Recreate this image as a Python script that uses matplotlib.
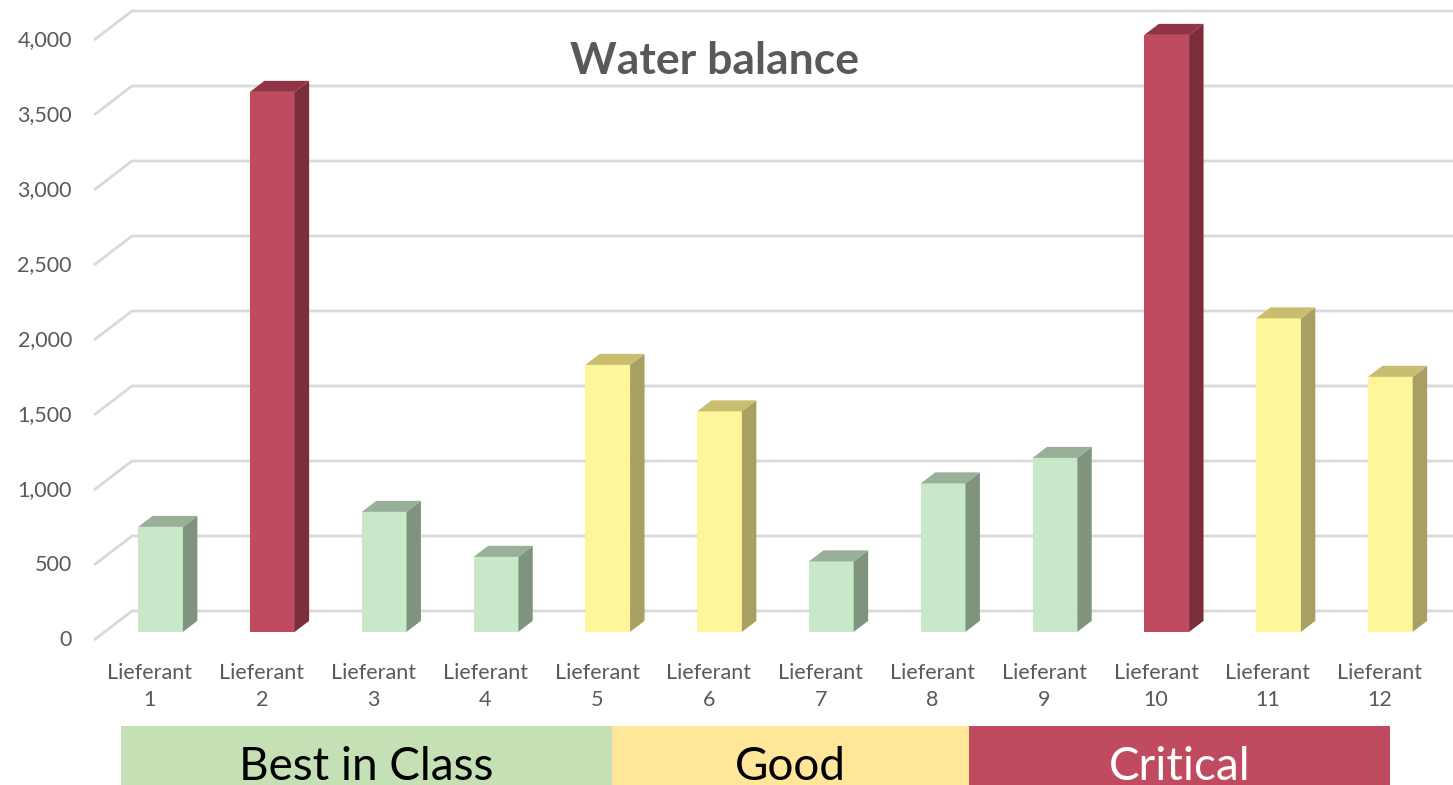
import matplotlib
matplotlib.use("Agg")
import matplotlib.pyplot as plt
from matplotlib.patches import Polygon, Rectangle

plt.rcParams['font.family'] = ['Lato', 'DejaVu Sans']

# supplier values and their rating
suppliers = [f"Lieferant\n{i}" for i in range(1, 13)]
water = [700, 3600, 800, 500, 1780, 1470, 470, 990, 1160, 3980, 2090, 1700]
rating = ["best", "critical", "best", "best", "good", "good",
          "best", "best", "best", "critical", "good", "good"]
yticks = [0, 500, 1000, 1500, 2000, 2500, 3000, 3500, 4000]

band_names = ["Best in Class", "Good", "Critical"]
band_keys = ["best", "good", "critical"]

# front / top / side shades per rating
face = {"best": "#C8E8CA", "good": "#FFF599", "critical": "#C04B60"}
top = {"best": "#98B098", "good": "#C9BE6F", "critical": "#913447"}
side = {"best": "#7F937F", "good": "#A89F62", "critical": "#7B2D3A"}
band_col = {"best": "#C5E0B4", "good": "#FFE699", "critical": "#C04B60"}
band_txt = {"best": "black", "good": "black", "critical": "white"}

W, H = 1453, 785
fig = plt.figure(figsize=(W / 100, H / 100), dpi=100)
ax = fig.add_axes([0, 0, 1, 1])

# pixel scale of the axes: 111.8 px per category, 0.15 px per unit
px_cat, px_val = 111.8, 0.15
x0 = -0.5 - 94 / px_cat
ax.set_xlim(x0, x0 + W / px_cat)
ax.set_ylim(-145 / px_val, 640 / px_val)
ax.axis("off")

# oblique depth offsets (depth 0 = front, 1 = back wall)
kx, ky = 38 / px_cat, 29 / px_val
d0, d1 = 0.28, 0.66
bw = 0.4

# side wall + back wall gridlines
for t in yticks:
    ax.plot([-0.5, -0.5 + kx, x0 + W / px_cat], [t, t + ky, t + ky],
            color="#D9D9D9", lw=2, zorder=1, solid_capstyle="butt")
    ax.text(-0.5 - 22 / px_cat, t, f"{t:,}", ha="right", va="center",
            fontsize=15.5, color="#595959")

xs = list(range(len(water)))
colors = [face[r] for r in rating]
ax.bar([x + kx * d0 for x in xs], water, width=bw, bottom=ky * d0,
       color=colors, zorder=3)

dx, dy = kx * (d1 - d0), ky * (d1 - d0)
for x, v, r in zip(xs, water, rating):
    xl = x + kx * d0 - bw / 2
    xr = xl + bw
    yb = ky * d0
    yt = yb + v
    ax.add_patch(Polygon([(xr, yb), (xr + dx, yb + dy), (xr + dx, yt + dy), (xr, yt)],
                         closed=True, facecolor=side[r], edgecolor="none", zorder=3))
    ax.add_patch(Polygon([(xl, yt), (xr, yt), (xr + dx, yt + dy), (xl + dx, yt + dy)],
                         closed=True, facecolor=top[r], edgecolor="none", zorder=3))
    ax.text(x, -312, suppliers[x], ha="center", va="center", fontsize=15.5,
            color="#595959", linespacing=1.45)

fig.text(715 / W, 1 - 61 / H, "Water balance", ha="center", va="center",
         fontsize=32, fontweight="bold", color="#595959")

# rating band under the chart
bax = fig.add_axes([0, 0, 1, 59 / H])
bax.set_xlim(0, W)
bax.set_ylim(0, 1)
bax.axis("off")
band_edges = [121, 612, 969, 1390]
for k, name, a, b in zip(band_keys, band_names, band_edges[:-1], band_edges[1:]):
    bax.add_patch(Rectangle((a, 0), b - a, 1, facecolor=band_col[k], edgecolor="none"))
    bax.text((a + b) / 2, 0.09, name, ha="center", va="baseline",
             fontsize=33, color=band_txt[k])

fig.savefig("out.png", dpi=100)
